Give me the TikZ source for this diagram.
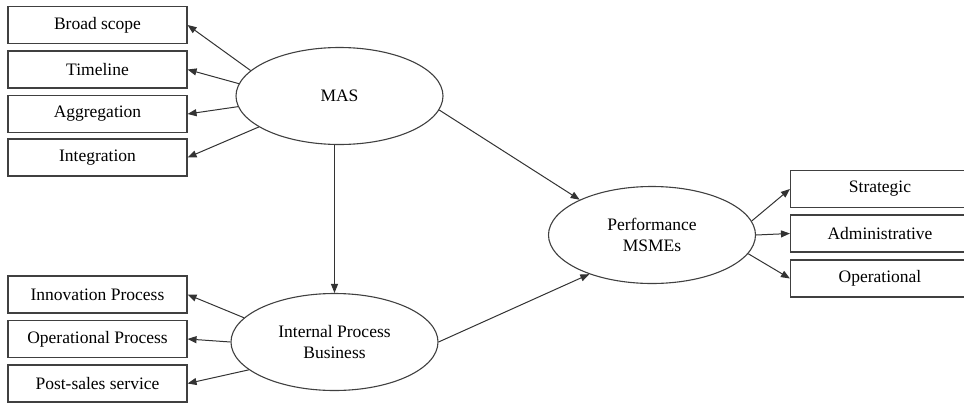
\documentclass[tikz,border=0pt]{standalone}
\usepackage{fontspec}
\setmainfont{Liberation Serif}
\usetikzlibrary{shapes}
\usetikzlibrary{arrows.meta}
\newcommand{\indbox}[4]{\node[indbox] (#1) at ( #2 , #3 ) {#4};}
\newcommand{\latvar}[4]{\node[latvar] (#1) at ( #2 , #3 ) {#4};}
\newcommand{\linkarrow}[2]{\draw[arr] (#1) -- (#2);}
\tikzset{
  indbox/.style={shape=rectangle,draw=black!75,line width=1.1pt,minimum width=179pt,minimum height=37pt,inner sep=0pt},
  latvar/.style={shape=ellipse,draw=black!75,line width=1.1pt,minimum width=207pt,minimum height=97pt,inner sep=0pt,align=center},
  arr/.style={draw=black!80,line width=1pt,-{Triangle[length=9pt,width=7pt]}}
}
\begin{document}
\begin{tikzpicture}[x=1pt,y=-1pt,font=\fontsize{17.5}{21}\selectfont]
        \useasboundingbox (0,0) rectangle (964,402);
        % latent variables
        \latvar{mas}{339.5}{96}{MAS}
        \latvar{ipb}{334.5}{342}{Internal Process\\Business}
        \latvar{perf}{652}{235}{Performance\\MSMEs}
        % MAS indicators
        \indbox{broad}{97.5}{25}{Broad scope}
        \indbox{time}{97.5}{69.5}{Timeline}
        \indbox{aggr}{97.5}{114}{Aggregation}
        \indbox{integ}{97.5}{157.5}{Integration}
        % internal process indicators
        \indbox{innov}{97.5}{294.5}{Innovation Process}
        \indbox{oper}{97.5}{339}{Operational Process}
        \indbox{post}{97.5}{383.5}{Post-sales service}
        % performance indicators
        \indbox{strat}{880}{189}{Strategic}
        \indbox{admin}{880}{233.5}{Administrative}
        \indbox{opl}{880}{278.5}{Operational}

        % arrows
        \linkarrow{mas.164}{broad.east}
        \linkarrow{mas.173}{time.east}
        \linkarrow{mas.186}{aggr.east}
        \linkarrow{mas.201}{integ.east}
        \linkarrow{ipb.165}{innov.east}
        \linkarrow{ipb.west}{oper.east}
        \linkarrow{ipb.198}{post.east}
        \linkarrow{perf.8}{strat.west}
        \linkarrow{perf.east}{admin.west}
        \linkarrow{perf.349}{opl.west}
        \linkarrow{mas.south -| ipb.north}{ipb.north}
        \linkarrow{mas.352}{perf.154}
        \linkarrow{ipb.east}{perf.212}
    \end{tikzpicture}
\end{document}
